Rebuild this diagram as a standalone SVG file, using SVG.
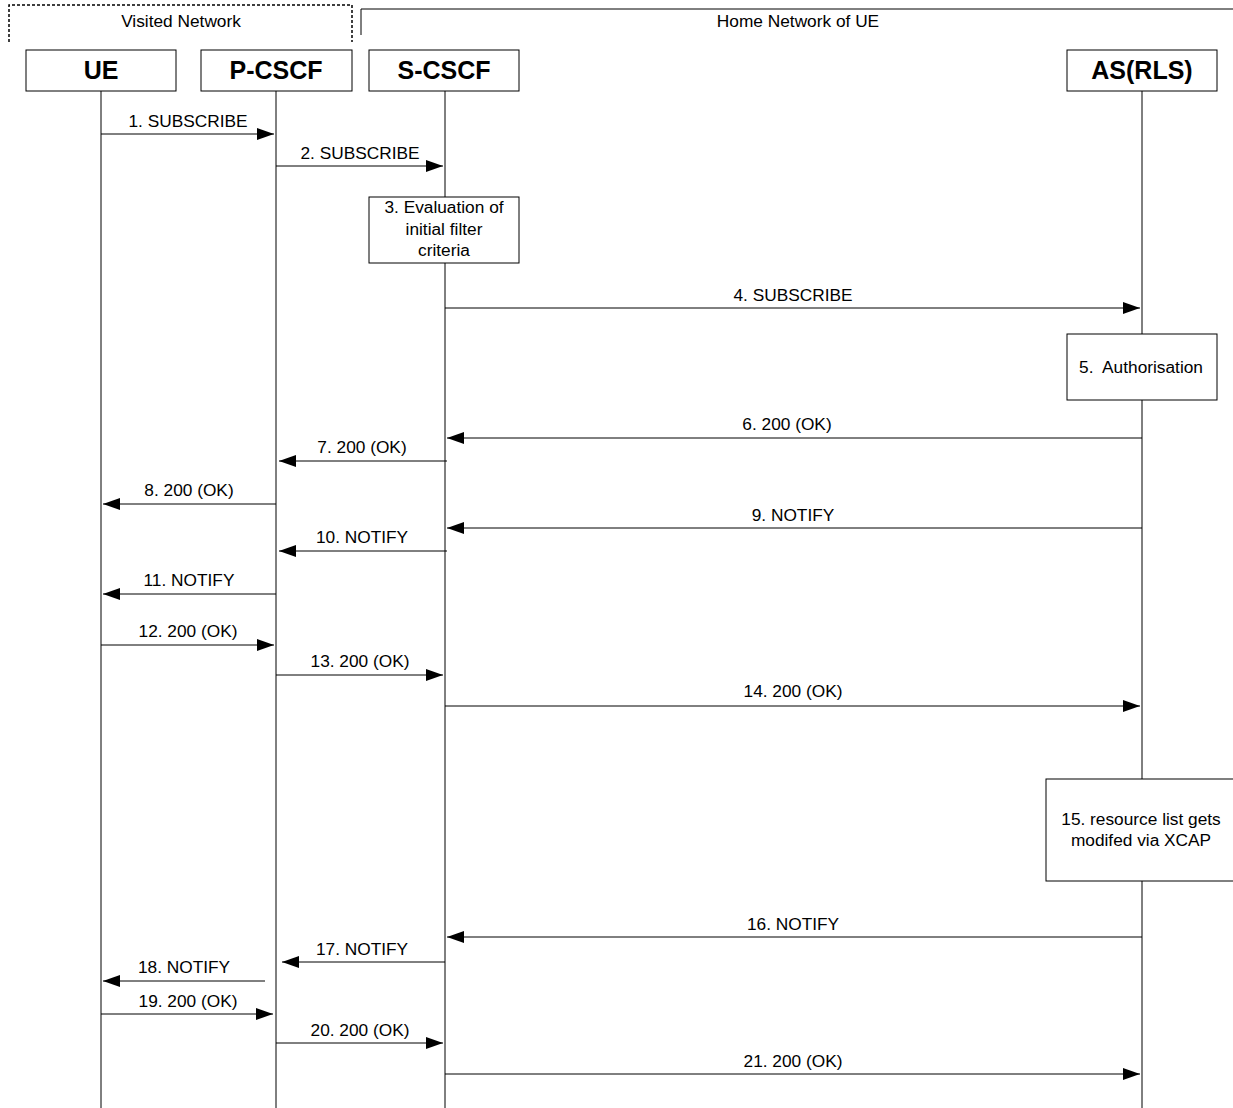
<svg xmlns="http://www.w3.org/2000/svg" width="1233" height="1108" viewBox="0 0 1233 1108">
<style>
text{font-family:"Liberation Sans",Arial,sans-serif;fill:#000}
.lbl{font-size:17.3px;text-anchor:middle}
.node{font-size:25px;font-weight:bold;text-anchor:middle}
.box{fill:#fff;stroke:#000;stroke-width:1}
.life{stroke:#000;stroke-width:1}
.msg{stroke:#000;stroke-width:1;fill:none;marker-end:url(#ah)}
</style>
<defs>
<marker id="ah" markerUnits="userSpaceOnUse" markerWidth="19" markerHeight="13" refX="17" refY="6" orient="auto">
<path d="M0,0 L17,6 L0,12 z" fill="#000"/>
</marker>
</defs>
<g id="visited-network">
<path d="M9,42 V5 H352 V42" fill="none" stroke="#000" stroke-width="1.5" stroke-dasharray="3,2"/>
<text class="lbl" x="181" y="27">Visited Network</text>
</g>
<g id="home-network">
<path d="M361,35 V9 H1233" fill="none" stroke="#000" stroke-width="1"/>
<text class="lbl" x="798" y="27">Home Network of UE</text>
</g>
<g id="lifelines">
<line class="life" x1="101" y1="91" x2="101" y2="1108"/>
<line class="life" x1="276" y1="91" x2="276" y2="1108"/>
<line class="life" x1="445" y1="91" x2="445" y2="1108"/>
<line class="life" x1="1142" y1="91" x2="1142" y2="1108"/>
</g>
<g id="UE"><rect class="box" x="26" y="50" width="150" height="41"/><text class="node" x="101" y="79">UE</text></g>
<g id="P-CSCF"><rect class="box" x="201" y="50" width="151" height="41"/><text class="node" x="276" y="79">P-CSCF</text></g>
<g id="S-CSCF"><rect class="box" x="369" y="50" width="150" height="41"/><text class="node" x="444" y="79">S-CSCF</text></g>
<g id="AS-RLS"><rect class="box" x="1067" y="50" width="150" height="41"/><text class="node" x="1142" y="79">AS(RLS)</text></g>
<g id="step3"><rect class="box" x="369" y="197" width="150" height="66"/>
<text class="lbl" x="444" y="213">3. Evaluation of</text>
<text class="lbl" x="444" y="235">initial filter</text>
<text class="lbl" x="444" y="256">criteria</text></g>
<g id="step5"><rect class="box" x="1067" y="334" width="150" height="66"/>
<text class="lbl" x="1141" y="373" xml:space="preserve">5.  Authorisation</text></g>
<g id="step15"><rect class="box" x="1046" y="779" width="190" height="102"/>
<text class="lbl" x="1141" y="825">15. resource list gets</text>
<text class="lbl" x="1141" y="846">modifed via XCAP</text></g>
<g id="connectors">
<line class="msg" x1="101" y1="134" x2="274" y2="134"/>
<text class="lbl" x="188" y="127">1. SUBSCRIBE</text>
<line class="msg" x1="276" y1="166" x2="443" y2="166"/>
<text class="lbl" x="360" y="159">2. SUBSCRIBE</text>
<line class="msg" x1="445" y1="308" x2="1140" y2="308"/>
<text class="lbl" x="793" y="301">4. SUBSCRIBE</text>
<line class="msg" x1="1142" y1="438" x2="447" y2="438"/>
<text class="lbl" x="787" y="430">6. 200 (OK)</text>
<line class="msg" x1="447" y1="461" x2="279" y2="461"/>
<text class="lbl" x="362" y="453">7. 200 (OK)</text>
<line class="msg" x1="276" y1="504" x2="103" y2="504"/>
<text class="lbl" x="189" y="496">8. 200 (OK)</text>
<line class="msg" x1="1142" y1="528" x2="447" y2="528"/>
<text class="lbl" x="793" y="521">9. NOTIFY</text>
<line class="msg" x1="447" y1="551" x2="279" y2="551"/>
<text class="lbl" x="362" y="543">10. NOTIFY</text>
<line class="msg" x1="276" y1="594" x2="103" y2="594"/>
<text class="lbl" x="189" y="586">11. NOTIFY</text>
<line class="msg" x1="101" y1="645" x2="274" y2="645"/>
<text class="lbl" x="188" y="637">12. 200 (OK)</text>
<line class="msg" x1="276" y1="675" x2="443" y2="675"/>
<text class="lbl" x="360" y="667">13. 200 (OK)</text>
<line class="msg" x1="445" y1="706" x2="1140" y2="706"/>
<text class="lbl" x="793" y="697">14. 200 (OK)</text>
<line class="msg" x1="1142" y1="937" x2="447" y2="937"/>
<text class="lbl" x="793" y="930">16. NOTIFY</text>
<line class="msg" x1="445" y1="962" x2="282" y2="962"/>
<text class="lbl" x="362" y="955">17. NOTIFY</text>
<line class="msg" x1="265" y1="981" x2="103" y2="981"/>
<text class="lbl" x="184" y="973">18. NOTIFY</text>
<line class="msg" x1="101" y1="1014" x2="273" y2="1014"/>
<text class="lbl" x="188" y="1007">19. 200 (OK)</text>
<line class="msg" x1="276" y1="1043" x2="443" y2="1043"/>
<text class="lbl" x="360" y="1036">20. 200 (OK)</text>
<line class="msg" x1="445" y1="1074" x2="1140" y2="1074"/>
<text class="lbl" x="793" y="1067">21. 200 (OK)</text>
</g>
</svg>
